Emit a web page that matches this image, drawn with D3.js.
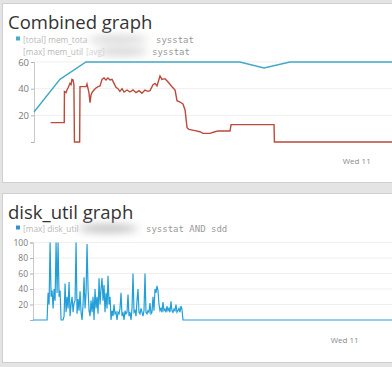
<!DOCTYPE html>
<html>
<head>
<meta charset="utf-8">
<script src="https://cdn.jsdelivr.net/npm/d3@7"></script>
<style>
  body { margin: 0; background: #e4e4e4; }
  svg { display: block; font-family: "Open Sans", sans-serif; }
</style>
</head>
<body>
<script>
// --- data (hours after the start of each panel's time window) ---
const memTotalHours  = [0, 1.45, 2.9, 11.5, 12.85, 14.3, 20]
const memTotalValues = [22.5, 47, 60, 60, 55.5, 60, 60]

const memUtilHours = [0.93, 1.69, 1.70, 1.79, 1.84, 1.90, 2.01, 2.07, 2.12, 2.18, 2.23, 2.26, 2.55, 2.57,
  2.91, 2.96, 3.07, 3.13, 3.18, 3.24, 3.35, 3.46, 3.58, 3.69, 3.80, 3.91, 4.02, 4.13, 4.25, 4.36,
  4.47, 4.58, 4.69, 4.80, 4.92, 5.03, 5.20, 5.36, 5.53, 5.70, 5.87, 6.03, 6.20, 6.37, 6.48, 6.65,
  6.76, 6.87, 7.04, 7.15, 7.32, 7.49, 7.71, 7.88, 7.99, 8.16, 8.32, 8.44, 8.55, 8.66, 9.00, 9.27,
  9.44, 9.83, 10.11, 10.28, 10.95, 11.01, 13.41, 13.43, 20]
const memUtilValues = [14.5, 14.5, 37.8, 37, 39, 40.5, 44, 43, 47, 46.5, 43, 0, 0, 41.5,
  41.5, 43.5, 37, 29.5, 35, 37, 39, 40.5, 41.5, 42, 47, 48, 46.5, 48, 46.5, 47,
  44, 41, 40, 38, 40, 37.5, 39, 37.5, 39, 37, 38.5, 36.5, 39, 38, 38.5, 43,
  44, 42, 49.5, 47, 47.5, 45, 41.5, 39, 31, 30, 28.5, 24, 10.7, 9.5, 8.5, 7.7,
  6.5, 6.5, 7.7, 8.3, 8.3, 13, 13, 0, 0]

const diskStartHour = 0.84
const diskStepMinutes = 3.34
const diskUtilValues = [
  35, 20, 100, 30, 38, 15, 40, 25, 100, 35,
  100, 30, 38, 0, 0, 0, 5, 47, 10, 30,
  15, 49, 5, 20, 30, 10, 22, 25, 100, 8,
  27, 12, 37, 10, 0, 20, 55, 15, 35, 98,
  40, 12, 5, 25, 10, 30, 0, 40, 15, 30,
  8, 54, 20, 40, 54, 25, 45, 10, 35, 15,
  57, 20, 30, 0, 12, 5, 20, 8, 10, 0,
  10, 8, 15, 35, 5, 10, 0, 12, 8, 10,
  33, 5, 10, 0, 15, 60, 10, 12, 5, 25,
  40, 10, 8, 15, 10, 5, 12, 60, 10, 8,
  12, 10, 22, 8, 10, 30, 12, 40, 35, 44,
  38, 20, 12, 15, 10, 23, 12, 14, 10, 18,
  12, 15, 10, 24, 12, 10, 14, 12, 20, 10,
  12, 15, 10, 18, 14, 0]

const memTicks = [0, 20, 40, 60]
const diskTicks = [0, 20, 40, 60, 80, 100]

const W = 392, H = 367
const HOUR = 3600 * 1000
const memStart = new Date(2015, 10, 10, 6, 0)
const diskStart = new Date(2015, 10, 10, 6, 40)
const atHour = (start, h) => new Date(start.getTime() + h * HOUR)

const svg = d3.select("body").append("svg")
  .attr("width", W)
  .attr("height", H)

svg.append("rect").attr("width", W).attr("height", H).attr("fill", "#e4e4e4")

// blur filter used for the redacted parts of legends
const blur = svg.append("defs").append("filter")
  .attr("id", "smudge")
  .attr("x", "-50%").attr("y", "-100%").attr("width", "200%").attr("height", "300%")
blur.append("feGaussianBlur").attr("stdDeviation", 4)

function panel(y0, h) {
  svg.append("rect")
    .attr("x", 2.5).attr("y", y0 + 0.5)
    .attr("width", W + 5).attr("height", h)
    .attr("fill", "#fff")
    .attr("stroke", "#cfcfcf")
  return svg.append("g")
}

function legendRow(g, y, color, label, tail, tailX, smudge) {
  if (color) {
    g.append("rect").attr("x", 16).attr("y", y - 6).attr("width", 4).attr("height", 4).attr("fill", color)
  }
  g.append("text").attr("x", 23).attr("y", y)
    .attr("font-size", 8.3).attr("fill", "#b8b8b8").text(label)
  g.append("ellipse")
    .attr("cx", smudge[0]).attr("cy", y - 3)
    .attr("rx", smudge[1]).attr("ry", 4)
    .attr("fill", smudge[2])
    .attr("filter", "url(#smudge)")
  g.append("text").attr("x", tailX).attr("y", y)
    .attr("font-family", "DejaVu Sans Mono, monospace")
    .attr("font-size", 9).attr("fill", "#9a9a9a").text(tail)
}

function yAxis(g, y, ticks, x0, x1, fontSize) {
  g.append("g")
    .selectAll("line")
    .data(ticks.filter(d => d > 0))
    .join("line")
    .attr("x1", x0).attr("x2", x1)
    .attr("y1", d => y(d)).attr("y2", d => y(d))
    .attr("stroke", "#efefef")

  const ax = g.append("g")
    .attr("transform", `translate(${x0},0)`)
    .call(d3.axisLeft(y).tickValues(ticks).tickSize(3).tickFormat(d => d ? d : ""))
  ax.select(".domain").attr("stroke", "#c8c8c8")
  ax.selectAll(".tick line").attr("stroke", "#b0b0b0")
  ax.selectAll(".tick text")
    .attr("font-family", "Open Sans, sans-serif")
    .attr("font-size", fontSize).attr("fill", "#7a7a7a").attr("dx", 1)
}

function xAxis(g, x, yPos) {
  const ax = g.append("g")
    .attr("transform", `translate(0,${yPos})`)
    .call(d3.axisBottom(x).ticks(d3.timeDay).tickSize(0).tickFormat(d3.timeFormat("%a %d")))
  ax.select(".domain").remove()
  ax.selectAll(".tick text")
    .attr("font-family", "Open Sans, sans-serif")
    .attr("font-size", 8).attr("fill", "#8a8a8a")
}

// ---------- Combined graph ----------
const topPanel = panel(3, 179)

topPanel.append("text").attr("x", 8).attr("y", 29)
  .attr("font-size", 18.5).attr("fill", "#333").text("Combined graph")

legendRow(topPanel, 42.5, "#3fb0c8", "[total] mem_tota", "sysstat", 156, [118, 30, "#d6d6d6"])
legendRow(topPanel, 54.5, null, "[max] mem_util", "sysstat", 152, [122, 26, "#d2d2d2"])
topPanel.append("text").attr("x", 86).attr("y", 54.5)
  .attr("font-size", 8.3).attr("fill", "#d4d4d4").text("[avg]")

const x1 = d3.scaleTime().domain([memStart, atHour(memStart, 20)]).range([34, W])
const y1 = d3.scaleLinear().domain([0, 60]).range([142, 62])

yAxis(topPanel, y1, memTicks, 34, W, 9.5)
xAxis(topPanel, x1, 155)

const line1 = d3.line().x(d => x1(d[0])).y(d => y1(d[1]))

topPanel.append("path")
  .datum(memUtilHours.map((h, i) => [atHour(memStart, h), memUtilValues[i]]))
  .attr("d", line1)
  .attr("fill", "none").attr("stroke", "#bb4a3a").attr("stroke-width", 1.4)

topPanel.append("path")
  .datum(memTotalHours.map((h, i) => [atHour(memStart, h), memTotalValues[i]]))
  .attr("d", line1)
  .attr("fill", "none").attr("stroke", "#40a9c3").attr("stroke-width", 1.4)

// ---------- disk_util graph ----------
const bottomPanel = panel(193, 169)

bottomPanel.append("text").attr("x", 8).attr("y", 219)
  .attr("font-size", 18.5).attr("fill", "#333").text("disk_util graph")

legendRow(bottomPanel, 231.5, "#3a8fd0", "[max] disk_util", "sysstat AND sdd", 146, [108, 30, "#bdbdbd"])

const x2 = d3.scaleTime().domain([diskStart, atHour(diskStart, 20)]).range([33, W])
const y2 = d3.scaleLinear().domain([0, 100]).range([320, 242.5])

yAxis(bottomPanel, y2, diskTicks, 33, W, 8.5)
xAxis(bottomPanel, x2, 334)

const diskPoints = [[diskStart, 0], [atHour(diskStart, diskStartHour - diskStepMinutes / 60), 0]]
diskUtilValues.forEach((v, i) => {
  diskPoints.push([atHour(diskStart, diskStartHour + i * diskStepMinutes / 60), v])
})
diskPoints.push([atHour(diskStart, 20), 0])

bottomPanel.append("path")
  .datum(diskPoints)
  .attr("d", d3.line().x(d => x2(d[0])).y(d => y2(d[1])))
  .attr("fill", "none").attr("stroke", "#229fd8").attr("stroke-width", 1.2)
</script>
</body>
</html>
